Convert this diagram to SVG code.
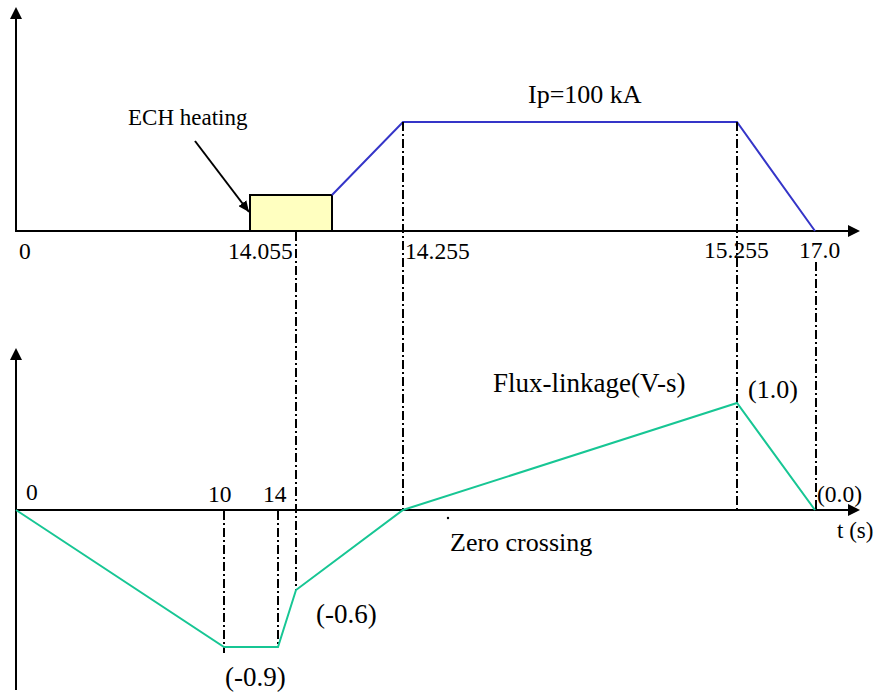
<svg xmlns="http://www.w3.org/2000/svg" width="874" height="695" viewBox="0 0 874 695">
  <style>
    .axis { stroke: #000; stroke-width: 2; fill: none; }
    .guide { stroke: #000; stroke-width: 2; fill: none; stroke-dasharray: 9 3 2 3; }
    .current { stroke: #3535c8; stroke-width: 2; fill: none; stroke-linejoin: miter; }
    .flux { stroke: #17c694; stroke-width: 2; fill: none; stroke-linejoin: miter; }
    text { font-family: "Liberation Serif", "Times New Roman", serif; fill: #000; }
    .num { font-size: 23.5px; }
  </style>
  <defs>
    <marker id="axisHead" markerUnits="userSpaceOnUse" markerWidth="12" markerHeight="12" refX="0" refY="6" orient="auto">
      <path d="M0,0 L12,6 L0,12 z" fill="#000"/>
    </marker>
    <marker id="pointer" markerUnits="userSpaceOnUse" markerWidth="12" markerHeight="10" refX="11" refY="5" orient="auto">
      <path d="M0,0 L11,5 L0,10 z" fill="#000"/>
    </marker>
  </defs>

  <!-- upper plot: plasma current -->
  <g id="current-axes">
    <line class="axis" x1="16" y1="232" x2="16" y2="19" marker-end="url(#axisHead)"/>
    <line class="axis" x1="15" y1="231" x2="848" y2="231" marker-end="url(#axisHead)"/>
  </g>

  <g id="ech-box">
    <rect x="250" y="195" width="82" height="36" fill="#ffffc0" stroke="#000" stroke-width="2"/>
  </g>

  <g id="current-trace">
    <polyline class="current" points="332,195 403,122 737,122 815,231"/>
  </g>

  <!-- lower plot: flux linkage -->
  <g id="flux-axes">
    <line class="axis" x1="16" y1="690" x2="16" y2="360" marker-end="url(#axisHead)"/>
    <line class="axis" x1="15" y1="510" x2="848" y2="510" marker-end="url(#axisHead)"/>
  </g>

  <g id="guides">
    <line class="guide" x1="296" y1="232" x2="296" y2="590"/>
    <line class="guide" x1="403" y1="122" x2="403" y2="510"/>
    <line class="guide" x1="737" y1="122" x2="737" y2="510"/>
    <line class="guide" x1="816" y1="262" x2="816" y2="510"/>
    <line class="guide" x1="224" y1="511" x2="224" y2="653"/>
    <line class="guide" x1="278" y1="511" x2="278" y2="645"/>
  </g>

  <g id="flux-trace">
    <polyline class="flux" points="16,510 224,647 278,647 296,590 403,510 737,403 815,510"/>
  </g>

  <g id="connectors">
    <line x1="195" y1="141" x2="249" y2="212" stroke="#000" stroke-width="2" marker-end="url(#pointer)"/>
    <circle cx="448" cy="518" r="1.2" fill="#000"/>
  </g>

  <g id="labels">
    <text x="128" y="125" font-size="23">ECH heating</text>
    <text x="528" y="103" font-size="26">Ip=100 kA</text>
    <text class="num" x="19" y="259">0</text>
    <text class="num" x="228" y="259">14.055</text>
    <text class="num" x="405" y="259">14.255</text>
    <text class="num" x="704" y="258">15.255</text>
    <text class="num" x="799" y="258">17.0</text>

    <text x="493" y="392" font-size="27">Flux-linkage(V-s)</text>
    <text x="748" y="398" font-size="26">(1.0)</text>
    <text class="num" x="26" y="500">0</text>
    <text class="num" x="208" y="502">10</text>
    <text class="num" x="263" y="502">14</text>
    <text class="num" x="817" y="502">(0.0)</text>
    <text x="837" y="538" font-size="23">t (s)</text>
    <text x="450" y="551" font-size="26">Zero crossing</text>
    <text x="316" y="623" font-size="27">(-0.6)</text>
    <text x="225" y="686" font-size="27">(-0.9)</text>
  </g>
</svg>
